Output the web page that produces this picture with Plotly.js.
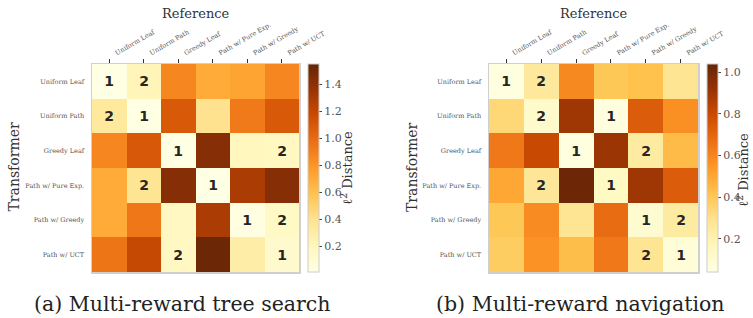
<!DOCTYPE html>
<html>
<head>
<meta charset="utf-8">
<script src="https://cdn.plot.ly/plotly-3.0.1.min.js"></script>
<style>html,body{margin:0;padding:0;background:#fff;}#chart{width:753px;height:318px;}</style>
</head>
<body>
<div id="chart"></div>
<script>
// Policy labels (rows = Transformer, columns = Reference)
const methods = ["Uniform Leaf", "Uniform Path", "Greedy Leaf", "Path w/ Pure Exp.", "Path w/ Greedy", "Path w/ UCT"];

// (a) Multi-reward tree search: l2 distance
const treeSearchDist = [
  [0.02, 0.22, 0.87, 0.70, 0.73, 0.87],
  [0.34, 0.02, 1.09, 0.40, 0.93, 1.09],
  [0.87, 1.10, 0.02, 1.43, 0.20, 0.18],
  [0.70, 0.38, 1.43, 0.02, 1.29, 1.43],
  [0.70, 0.94, 0.17, 1.29, 0.03, 0.16],
  [0.95, 1.19, 0.17, 1.53, 0.30, 0.12]
];
const treeSearchRank = [
  ["1", "2", "", "", "", ""],
  ["2", "1", "", "", "", ""],
  ["", "", "1", "", "", "2"],
  ["", "2", "", "1", "", ""],
  ["", "", "", "", "1", "2"],
  ["", "", "2", "", "", "1"]
];

// (b) Multi-reward navigation: l2 distance
const navigationDist = [
  [0.06, 0.26, 0.59, 0.40, 0.42, 0.28],
  [0.34, 0.12, 0.90, 0.06, 0.73, 0.57],
  [0.64, 0.80, 0.06, 0.91, 0.24, 0.44],
  [0.50, 0.27, 1.02, 0.14, 0.90, 0.73],
  [0.40, 0.58, 0.28, 0.68, 0.10, 0.24],
  [0.38, 0.56, 0.43, 0.64, 0.28, 0.08]
];
const navigationRank = [
  ["1", "2", "", "", "", ""],
  ["", "2", "", "1", "", ""],
  ["", "", "1", "", "2", ""],
  ["", "2", "", "1", "", ""],
  ["", "", "", "", "1", "2"],
  ["", "", "", "", "2", "1"]
];

const captions = ["(a) Multi-reward tree search", "(b) Multi-reward navigation"];

// YlOrBr colormap
const ylOrBr = [
  [0.000, "#ffffe5"], [0.125, "#fff7bc"], [0.250, "#fee391"], [0.375, "#fec44f"],
  [0.500, "#fe9929"], [0.625, "#ec7014"], [0.750, "#cc4c02"], [0.875, "#993404"], [1.000, "#662506"]
];

const W = 753, H = 318;
const px = v => v / W;
const py = v => 1 - v / H;
const SERIF = "DejaVu Serif";

function cb(xLeft) {
  return {
    x: px(xLeft), xanchor: "left", xpad: 0,
    y: py(168), yanchor: "middle", ypad: 0,
    len: 208, lenmode: "pixels", thickness: 11,
    outlinecolor: "#cccccc", outlinewidth: 1,
    tick0: 0, dtick: 0.2, tickformat: ".1f",
    ticks: "outside", ticklen: 3, tickcolor: "#444", tickwidth: 1,
    tickfont: {family: SERIF, size: 11, color: "#555"}
  };
}

const cellFont = {family: "DejaVu Sans", size: 14, color: "#262626"};

const traces = [
  {
    type: "heatmap", x: methods, y: methods, z: treeSearchDist,
    text: treeSearchRank, texttemplate: "<b>%{text}</b>", textfont: cellFont,
    colorscale: ylOrBr, zmin: 0.01, zmax: 1.55,
    colorbar: cb(308), xaxis: "x", yaxis: "y", hoverinfo: "none"
  },
  {
    type: "heatmap", x: methods, y: methods, z: navigationDist,
    text: navigationRank, texttemplate: "<b>%{text}</b>", textfont: cellFont,
    colorscale: ylOrBr, zmin: 0.04, zmax: 1.04,
    colorbar: cb(707), xaxis: "x2", yaxis: "y2", hoverinfo: "none"
  }
];

const tickFont = {family: SERIF, size: 6.5, color: "#555"};
function xax(l, r, anchor) {
  return {
    domain: [px(l), px(r)], anchor: anchor, side: "top",
    tickangle: -30, tickfont: tickFont, ticklabelshift: 6,
    ticks: "outside", ticklen: 4, tickcolor: "#333", tickwidth: 1,
    showline: true, mirror: true, linecolor: "#cfcfcf", linewidth: 1.5,
    showgrid: false, zeroline: false, fixedrange: true
  };
}
function yax(anchor) {
  return {
    domain: [py(272), py(64)], anchor: anchor, autorange: "reversed",
    tickfont: tickFont, ticks: "", ticklabelstandoff: 5,
    showline: true, mirror: true, linecolor: "#cfcfcf", linewidth: 1.5,
    showgrid: false, zeroline: false, fixedrange: true
  };
}

const ann = [];
function addAnn(text, x, y, size, angle, color) {
  ann.push({
    text: text, xref: "paper", yref: "paper", x: px(x), y: py(y),
    xanchor: "center", yanchor: "middle", showarrow: false, textangle: angle || 0,
    font: {family: SERIF, size: size, color: color || "#333"}
  });
}
addAnn("Reference", 195.5, 14, 13);
addAnn("Reference", 593.5, 14, 13);
addAnn("Transformer", 13.5, 167, 14, -90);
addAnn("Transformer", 412, 167, 14, -90);
addAnn("ℓ<sup>2</sup> Distance", 347, 168, 13, -90);
addAnn("ℓ<sup>2</sup> Distance", 743, 170, 13, -90);
addAnn(captions[0], 182, 304, 20.5, 0, "#222");
addAnn(captions[1], 580, 304, 20.5, 0, "#222");

const layout = {
  width: W, height: H,
  margin: {l: 0, r: 0, t: 0, b: 0, pad: 0},
  paper_bgcolor: "#fff", plot_bgcolor: "#fff",
  showlegend: false,
  xaxis: xax(92, 299, "y"),
  yaxis: yax("x"),
  xaxis2: xax(489, 698, "y2"),
  yaxis2: yax("x2"),
  annotations: ann
};

Plotly.newPlot("chart", traces, layout, {staticPlot: true, displayModeBar: false});
</script>
</body>
</html>
